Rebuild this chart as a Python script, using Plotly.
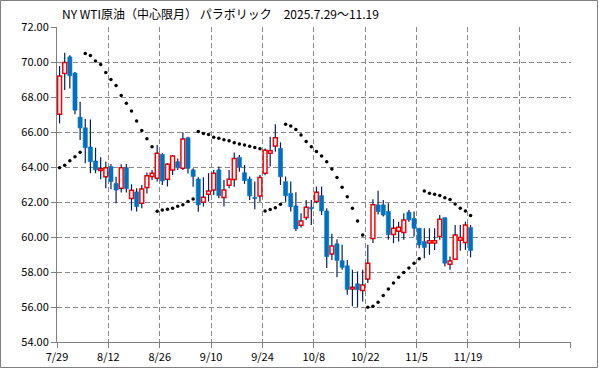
import plotly.graph_objects as go

dates = ["7/29","7/30","7/31","8/1","8/4","8/5","8/6","8/7","8/8","8/11","8/12","8/13","8/14","8/15","8/18","8/19","8/20","8/21","8/22","8/25","8/26","8/27","8/28","8/29",
         "9/2","9/3","9/4","9/5","9/8","9/9","9/10","9/11","9/12","9/15","9/16","9/17","9/18","9/19","9/22","9/23","9/24","9/25","9/26","9/29","9/30",
         "10/1","10/2","10/3","10/6","10/7","10/8","10/9","10/10","10/13","10/14","10/15","10/16","10/17","10/20","10/21","10/22","10/23","10/24","10/27","10/28","10/29","10/30","10/31",
         "11/3","11/4","11/5","11/6","11/7","11/10","11/11","11/12","11/13","11/14","11/17","11/18","11/19"]

open_ = [67.04,69.37,70.32,69.39,66.87,66.26,65.16,64.36,63.81,63.46,64.04,63.08,62.80,63.98,62.21,62.59,61.94,62.85,63.47,63.37,64.74,63.31,63.85,64.32,
         63.94,65.69,63.85,63.33,62.00,62.46,62.70,63.85,62.27,62.97,63.30,64.57,63.69,63.33,62.28,62.36,63.66,64.80,65.22,65.08,63.18,
         62.51,61.79,60.68,61.12,61.71,62.04,62.38,61.50,59.03,59.62,58.65,58.36,57.03,57.33,56.95,57.60,59.92,61.85,61.85,61.48,60.15,60.34,60.27,
         61.43,61.08,60.51,59.75,59.66,59.66,60.04,61.12,58.45,58.74,59.83,59.69,60.55]
high = [69.79,70.55,70.42,69.45,67.75,66.76,66.74,65.12,64.57,64.32,64.19,63.46,64.17,64.19,63.03,62.80,62.99,63.70,63.85,65.27,64.80,64.23,64.70,64.51,
        66.00,65.75,63.94,63.43,63.43,63.66,63.85,64.04,63.27,63.85,64.84,64.70,64.13,63.47,63.18,63.56,65.08,65.75,66.47,65.43,63.47,
        63.18,62.57,61.37,62.13,62.13,62.90,62.90,61.66,60.19,59.88,59.56,58.70,58.13,58.04,58.13,59.56,62.17,62.66,62.13,61.94,61.03,60.89,61.37,
        61.56,61.47,60.51,60.51,60.51,60.51,61.27,61.12,58.90,60.70,60.70,60.89,60.70]
low = [66.51,68.42,68.51,67.04,65.56,64.23,63.66,63.66,63.31,62.80,62.74,61.94,62.55,62.55,61.52,61.47,61.66,62.50,63.27,63.18,62.99,62.90,63.56,63.85,
       63.85,63.65,62.89,61.46,61.75,62.04,62.42,62.23,61.75,62.80,62.89,63.75,63.05,62.13,61.60,62.03,63.54,64.04,64.89,62.99,62.03,
       61.47,60.36,60.55,60.99,60.70,61.94,61.27,58.23,58.70,57.71,58.13,56.70,56.04,56.00,56.32,57.37,59.66,61.30,61.18,59.85,59.66,59.75,59.85,
       60.89,60.04,59.37,58.80,58.99,59.27,59.85,58.32,58.13,58.74,59.22,59.27,58.84]
close = [69.22,70.00,69.24,67.27,66.26,65.12,64.32,63.85,63.92,63.98,63.18,62.70,63.98,62.78,62.68,61.75,62.76,63.52,63.66,64.80,63.22,64.17,64.65,63.98,
         65.62,63.94,63.47,61.85,62.28,62.65,63.66,62.38,62.70,63.31,64.51,64.00,63.24,62.36,62.21,63.41,64.97,64.95,65.69,63.46,62.37,
         61.75,60.48,60.93,61.71,61.62,62.57,61.50,58.89,59.50,58.67,58.27,57.01,57.14,56.99,57.26,58.51,61.85,61.47,61.27,60.15,60.51,60.57,60.99,
         60.99,60.51,59.56,59.41,59.79,59.79,61.03,58.51,58.64,60.13,59.98,60.70,59.24]
sar = [63.98,64.11,64.38,64.61,64.86,
       70.51,70.40,70.09,69.88,69.43,69.03,68.68,68.11,67.66,67.22,66.65,66.11,65.64,65.18,
       61.48,61.55,61.60,61.65,61.77,61.85,62.04,62.19,
       66.05,65.94,65.87,65.72,65.66,65.58,65.52,65.41,65.33,65.27,65.21,65.13,65.06,
       61.50,61.58,61.68,61.88,
       66.46,66.36,66.17,65.85,65.47,65.18,64.90,64.65,64.32,63.90,63.41,62.86,62.32,61.66,60.93,60.13,
       55.99,56.05,56.27,56.66,57.04,57.37,57.70,57.98,58.23,58.51,58.76,
       62.65,62.51,62.46,62.38,62.26,62.15,61.90,61.66,61.50,61.24]

y_ticks = [54, 56, 58, 60, 62, 64, 66, 68, 70, 72]
title_text = "NY WTI原油（中心限月） パラボリック　2025.7.29～11.19"

n = len(dates)
xs = list(range(n))

# wick segments (above and below the body)
wx, wy = [], []
for i in xs:
    top = max(open_[i], close[i])
    bot = min(open_[i], close[i])
    wx += [i, i, None, i, i, None]
    wy += [high[i], top, None, bot, low[i], None]

up = [i for i in xs if close[i] >= open_[i]]
dn = [i for i in xs if close[i] < open_[i]]

fig = go.Figure()
fig.add_trace(go.Bar(x=up, base=[open_[i] for i in up], y=[close[i] - open_[i] for i in up],
                     width=0.75, marker=dict(color="white", line=dict(color="#FF0000", width=1.5)),
                     hoverinfo="skip"))
fig.add_trace(go.Bar(x=dn, base=[close[i] for i in dn], y=[open_[i] - close[i] for i in dn],
                     width=0.8, marker=dict(color="#0070C0", line=dict(color="#0070C0", width=0.6)),
                     hoverinfo="skip"))
fig.add_trace(go.Scatter(x=wx, y=wy, mode="lines", line=dict(color="#002060", width=1.2),
                         hoverinfo="skip"))
fig.add_trace(go.Scatter(x=xs, y=sar, mode="markers",
                         marker=dict(color="black", size=3.5), hoverinfo="skip"))

W, H = 599, 369
ml, mr, mt, mb = 57, 28, 27, 27
pw, ph = W - ml - mr, H - mt - mb

tickvals_x = [i - 0.5 for i in range(0, 101, 10)]
ticktext_x = dates[::10] + ["", ""]

axis_common = dict(showgrid=True, gridcolor="#8a8a8a", griddash="5px,3px", gridwidth=1,
                   showline=True, linecolor="#808080", linewidth=1,
                   ticks="outside", ticklen=5, tickcolor="#808080", zeroline=False,
                   automargin=False, tickfont=dict(family="Noto Sans CJK JP", size=11))

fig.update_layout(
    width=W, height=H, margin=dict(l=ml, r=mr, t=mt, b=mb, autoexpand=False),
    paper_bgcolor="white", plot_bgcolor="white",
    showlegend=False, barmode="overlay",
    font=dict(family="Noto Sans CJK JP", size=11, color="black"),
    title=dict(text=title_text, xref="container", yref="container",
               x=62 / W, y=1 - 15 / H, xanchor="left", yanchor="middle",
               font=dict(family="Noto Sans CJK JP", size=12, color="black")),
    xaxis=dict(range=[-0.5, 99.55], tickmode="array", tickvals=tickvals_x, ticktext=ticktext_x,
               **axis_common),
    yaxis=dict(range=[54, 72.03], tickmode="array", tickvals=y_ticks,
               ticktext=["%.2f" % v for v in y_ticks], **axis_common),
    shapes=[dict(type="rect", xref="paper", yref="paper",
                 x0=-(ml - 0.5) / pw, x1=1 + (mr - 1.5) / pw,
                 y0=-(mb - 1.5) / ph, y1=1 + (mt - 0.5) / ph,
                 line=dict(color="#808080", width=1), fillcolor="rgba(0,0,0,0)", layer="below")],
)

fig.write_html("out.html", config={"displayModeBar": False})

# remove the browser's default page margin so the figure sits at the window origin
with open("out.html", "r", encoding="utf-8") as f:
    html = f.read()
html = html.replace("<head>", "<head><style>html,body{margin:0;padding:0;overflow:hidden;}</style>", 1)
with open("out.html", "w", encoding="utf-8") as f:
    f.write(html)
